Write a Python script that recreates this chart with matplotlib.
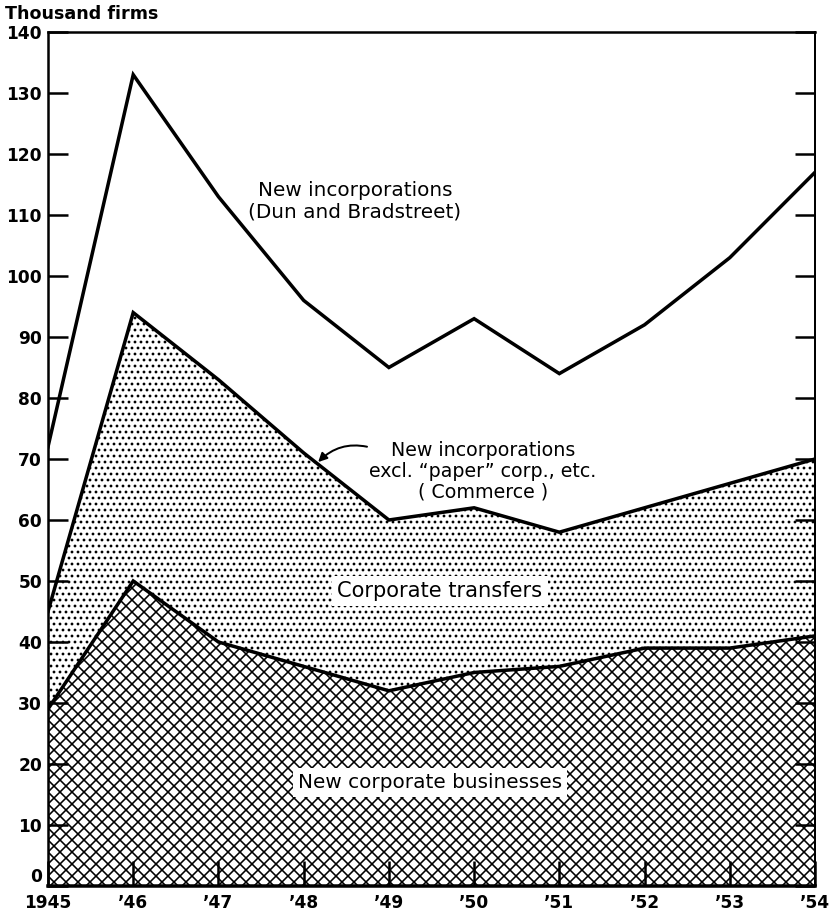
import matplotlib
matplotlib.use("Agg")
import matplotlib.pyplot as plt

years = [1945, 1946, 1947, 1948, 1949, 1950, 1951, 1952, 1953, 1954]
dun_bradstreet = [72, 133, 113, 96, 85, 93, 84, 92, 103, 117]
commerce = [45, 94, 83, 71, 60, 62, 58, 62, 66, 70]
new_businesses = [29, 50, 40, 36, 32, 35, 36, 39, 39, 41]
xtick_labels = ["1945", "\u201946", "\u201947", "\u201948", "\u201949",
                "\u201950", "\u201951", "\u201952", "\u201953", "\u201954"]
yticks = list(range(0, 141, 10))

plt.rcParams['font.family'] = ['DejaVu Sans']
plt.rcParams['hatch.color'] = 'black'
plt.rcParams['hatch.linewidth'] = 1.6

DPI = 72
fig = plt.figure(figsize=(832 / DPI, 913 / DPI), dpi=DPI)
ax = fig.add_axes([48 / 832, (913 - 886) / 913, (815 - 48) / 832, (886 - 32) / 913])

ax.fill_between(years, 0, new_businesses, facecolor='white', edgecolor='black',
                hatch='xx', linewidth=0, zorder=1)
ax.fill_between(years, new_businesses, commerce, facecolor='white', edgecolor='black',
                hatch='..', linewidth=0, zorder=1)

for s in (dun_bradstreet, commerce, new_businesses):
    ax.plot(years, s, color='black', lw=3.5, solid_joinstyle='miter', zorder=3)

ax.set_xlim(1945, 1954)
ax.set_ylim(0, 140)
ax.set_xticks(years)
ax.set_xticklabels(xtick_labels)
ax.set_yticks(yticks)
ax.tick_params(axis='y', direction='in', length=20, width=2.5, right=True,
               labelsize=17, pad=6)
ax.tick_params(axis='x', direction='in', length=25, width=2.5,
               labelsize=17, pad=8)
for lab in ax.get_xticklabels() + ax.get_yticklabels():
    lab.set_fontweight('bold')
ax.get_yticklabels()[0].set_va('bottom')

for side, lw in (('left', 2.5), ('bottom', 3.5), ('right', 2), ('top', 2.5)):
    ax.spines[side].set_linewidth(lw)
    ax.spines[side].set_zorder(5)

fig.text(5 / 832, 1 - 14 / 913, "Thousand firms", fontsize=17.5, fontweight='bold',
         va='center', ha='left')

ax.text(1948.6, 112.3, "New incorporations\n(Dun and Bradstreet)", fontsize=20,
        ha='center', va='center', linespacing=1.15, zorder=4)

ax.annotate("New incorporations\nexcl. \u201cpaper\u201d corp., etc.\n( Commerce )",
            xy=(1948.17, 69.5), xytext=(1950.1, 68.0), fontsize=19,
            ha='center', va='center', linespacing=1.1, zorder=4,
            arrowprops=dict(arrowstyle='-|>', color='black', lw=2,
                            connectionstyle='arc3,rad=0.3',
                            shrinkA=0, shrinkB=0, mutation_scale=18,
                            relpos=(0.02, 0.88)))

box = dict(facecolor='white', edgecolor='none', pad=5)
ax.text(1949.6, 48.4, "Corporate transfers", fontsize=21, ha='center', va='center',
        bbox=box, zorder=4)
ax.text(1949.48, 16.9, "New corporate businesses", fontsize=20, ha='center',
        va='center', bbox=box, zorder=4)

fig.savefig("out.png", dpi=DPI)
